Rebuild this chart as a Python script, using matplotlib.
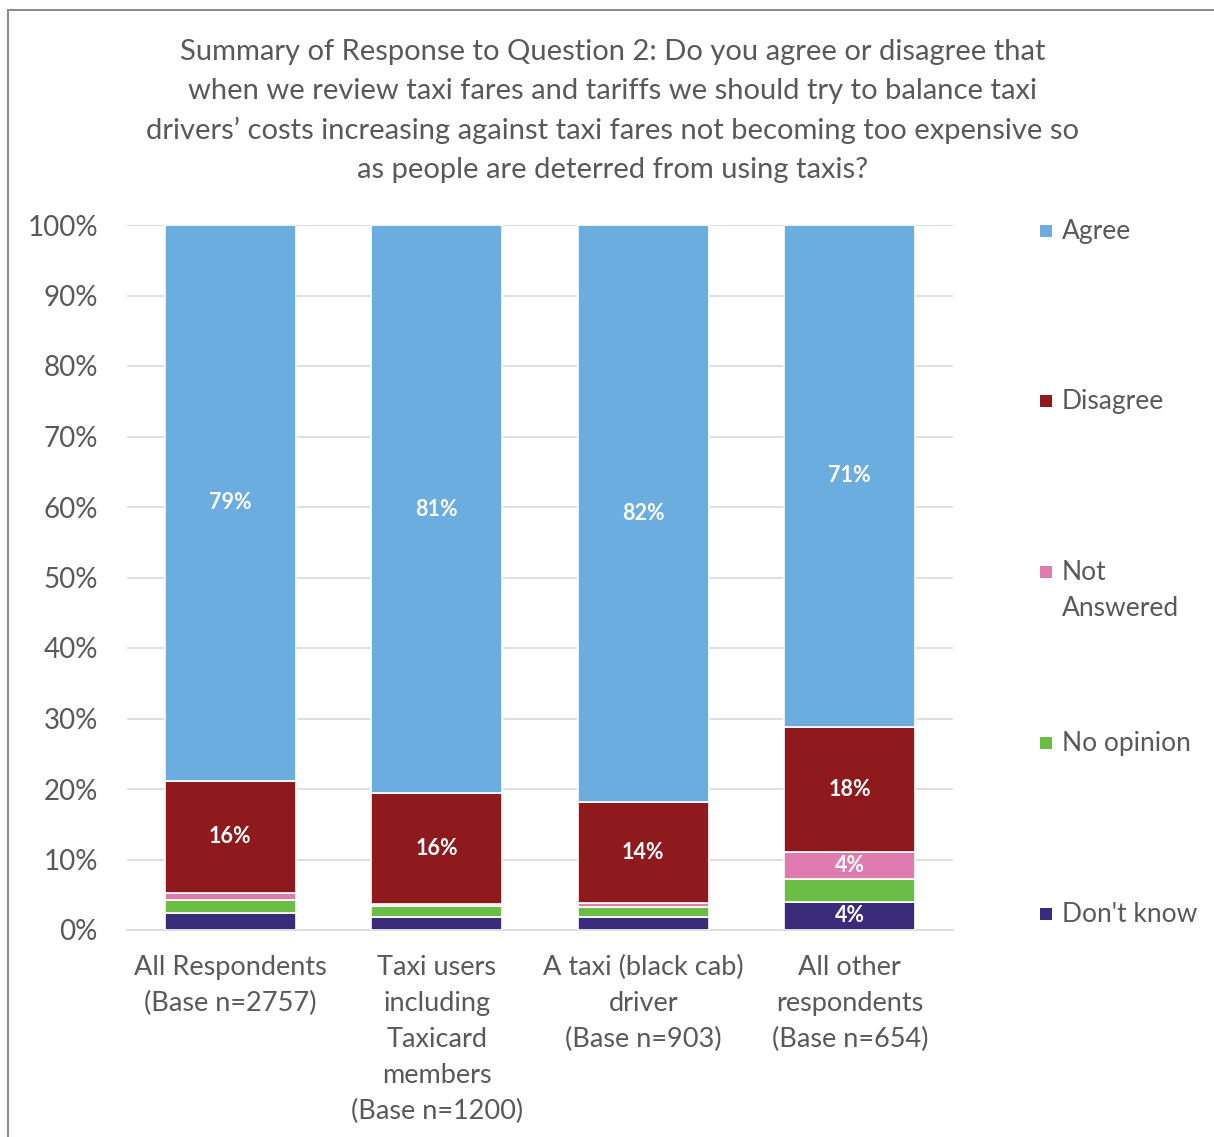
import matplotlib.pyplot as plt
import numpy as np
from matplotlib.patches import Rectangle

plt.rcParams['font.family'] = ['Lato', 'DejaVu Sans']

# Survey responses (% of each group), bottom segment first
groups = ['All Respondents\n(Base n=2757)',
          'Taxi users\nincluding\nTaxicard\nmembers\n(Base n=1200)',
          'A taxi (black cab)\ndriver\n(Base n=903)',
          'All other\nrespondents\n(Base n=654)']
dont_know = [2.4, 1.8, 1.8, 4.0]
no_opinion = [1.8, 1.6, 1.5, 3.2]
not_answered = [1.0, 0.3, 0.6, 3.8]
disagree = [16.0, 15.7, 14.3, 17.8]
agree = [78.8, 80.6, 81.8, 71.2]

series = [('Don\'t know', dont_know, '#3A2C7A'),
          ('No opinion', no_opinion, '#6ABD45'),
          ('Not\nAnswered', not_answered, '#E07BB0'),
          ('Disagree', disagree, '#8E1A1D'),
          ('Agree', agree, '#6AADDE')]

grey = '#595959'

fig = plt.figure(figsize=(12.14, 11.37), dpi=100)
ax = fig.add_axes([127 / 1214, 1 - 930 / 1137, 826 / 1214, 705 / 1137])

x = np.arange(len(groups))
bottom = np.zeros(len(groups))
for name, vals, col in series:
    vals = np.array(vals)
    ax.bar(x, vals, width=0.635, bottom=bottom, color=col,
           edgecolor='white', linewidth=1.2, zorder=3)
    for xi, b, v in zip(x, bottom, vals):
        if v >= 3.5:
            ax.text(xi, b + v / 2, f'{v:.0f}%', ha='center', va='center',
                    color='white', fontsize=15.5, fontweight='bold', zorder=4)
    bottom += vals

ax.set_xlim(-0.5, 3.5)
ax.set_ylim(0, 100)
ax.set_yticks(np.arange(0, 101, 10))
ax.set_yticklabels([f'{v}%' for v in range(0, 101, 10)])
ax.set_xticks(x)
ax.set_xticklabels(groups, linespacing=1.55)
ax.tick_params(axis='both', length=0, labelcolor=grey)
ax.tick_params(axis='x', pad=18, labelsize=19.5)
ax.tick_params(axis='y', pad=21, labelsize=20)
ax.grid(axis='y', color='#D9D9D9', linewidth=1.2, zorder=0)
for s in ['top', 'right', 'left']:
    ax.spines[s].set_visible(False)
ax.spines['bottom'].set_color('#D9D9D9')
ax.spines['bottom'].set_linewidth(1.2)

# Legend placed down the right side
legend_y = [231, 401, 572, 743, 914]
for (name, vals, col), yy in zip(series[::-1], legend_y):
    fig.patches.append(Rectangle((1040 / 1214, 1 - (yy + 6) / 1137), 12 / 1214, 12 / 1137,
                                 transform=fig.transFigure, facecolor=col, edgecolor='none'))
    if '\n' in name:
        fig.text(1062 / 1214, 1 - (yy - 12) / 1137, name, ha='left', va='top',
                 fontsize=19, color=grey, linespacing=1.55)
    else:
        fig.text(1062 / 1214, 1 - yy / 1137, name, ha='left', va='center',
                 fontsize=19, color=grey)

fig.text(613 / 1214, 1 - 111 / 1137,
         'Summary of Response to Question 2: Do you agree or disagree that\n'
         'when we review taxi fares and tariffs we should try to balance taxi\n'
         'drivers\u2019 costs increasing against taxi fares not becoming too expensive so\n'
         'as people are deterred from using taxis?',
         ha='center', va='center', fontsize=21, color=grey, linespacing=1.6)

# outer chart frame
fig.patches.append(Rectangle((8 / 1214, -0.01), 1.02, 1 - 10 / 1137 + 0.01,
                             transform=fig.transFigure, fill=False,
                             edgecolor='#8C8C8C', linewidth=1.5))

fig.savefig('out.png', dpi=100, facecolor='white')
